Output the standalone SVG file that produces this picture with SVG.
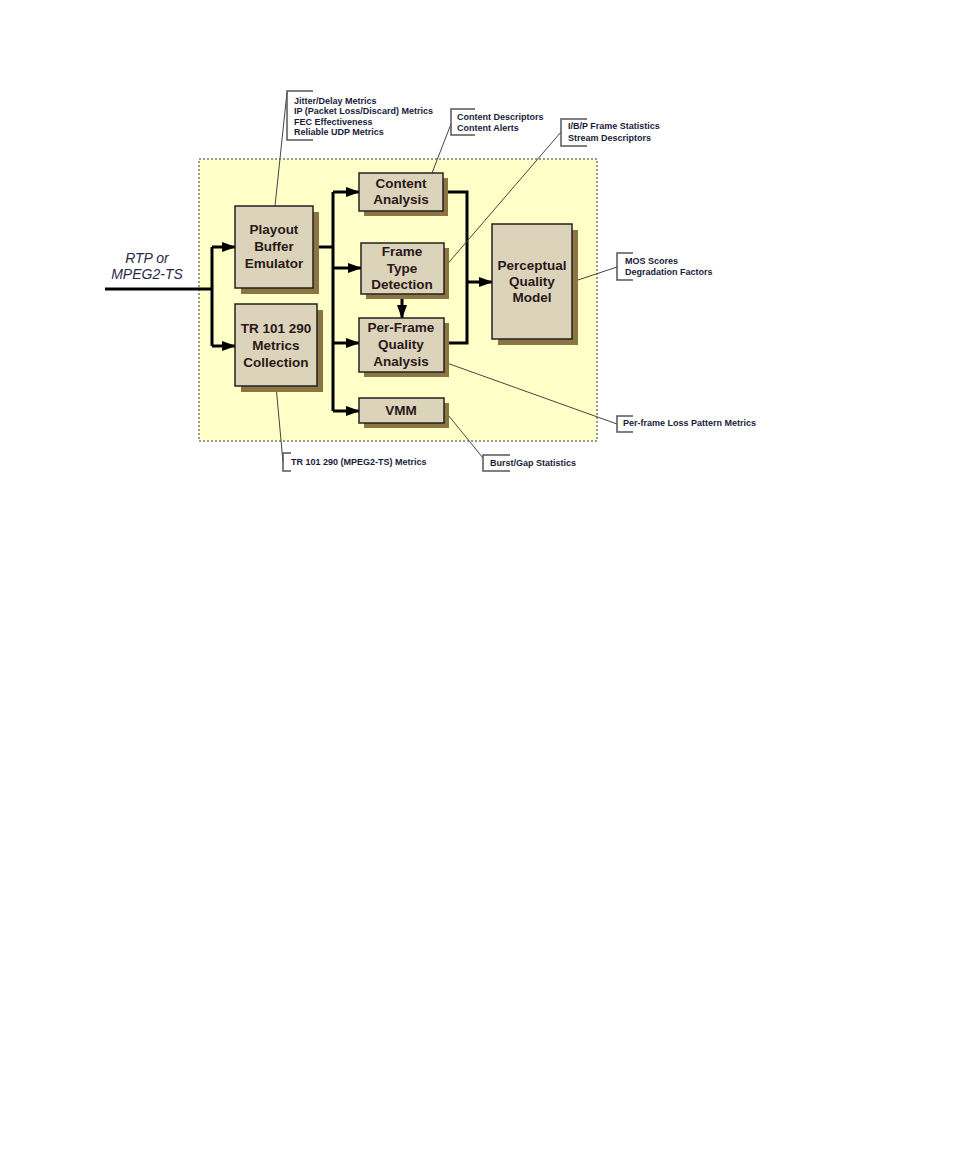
<svg xmlns="http://www.w3.org/2000/svg" width="954" height="1158" viewBox="0 0 954 1158">
<style>
.area{fill:#ffffc8;stroke:#777;stroke-width:1.5;stroke-dasharray:2,2}
.shadow{fill:#8c7443}
.box{fill:#dcd3bb;stroke:#222;stroke-width:1.5}
.bt{font-family:"Liberation Sans",Arial,sans-serif;font-weight:bold;font-size:13.5px;fill:#2a1818;text-anchor:middle}
.ct{font-family:"Liberation Sans",Arial,sans-serif;font-weight:bold;font-size:9px;fill:#1a1a3a}
.in{font-family:"Liberation Sans",Arial,sans-serif;font-style:italic;font-size:14px;fill:#2a2a4a;text-anchor:middle}
.conn{fill:none;stroke:#000;stroke-width:3}
.lead{fill:none;stroke:#444;stroke-width:1}
.br{fill:none;stroke:#555;stroke-width:1.5}
</style>
<defs>
<marker id="arr" markerUnits="userSpaceOnUse" markerWidth="14" markerHeight="11" refX="13" refY="5" orient="auto">
<path d="M0,0 L14,5 L0,10 z" fill="#000"/>
</marker>
</defs>
<rect class="area" x="199" y="159" width="398" height="282"/>
<text class="in" x="147" y="263">RTP or</text>
<text class="in" x="147" y="279">MPEG2-TS</text>

<g id="connectors">
<path class="conn" d="M105,289 H212"/>
<path class="conn" d="M212,247 V346"/>
<path class="conn" d="M212,247 H235" marker-end="url(#arr)"/>
<path class="conn" d="M212,346 H235" marker-end="url(#arr)"/>
<path class="conn" d="M313,247 H333"/>
<path class="conn" d="M333,192 V411"/>
<path class="conn" d="M333,192 H359" marker-end="url(#arr)"/>
<path class="conn" d="M333,268 H361" marker-end="url(#arr)"/>
<path class="conn" d="M333,343 H359" marker-end="url(#arr)"/>
<path class="conn" d="M333,411 H359" marker-end="url(#arr)"/>
<path class="conn" d="M443,192 H467 V343 H444"/>
<path class="conn" d="M467,282 H492" marker-end="url(#arr)"/>
<path class="conn" d="M402,294 V318" marker-end="url(#arr)"/>
<path class="lead" d="M275,206 L287,92"/>
<path class="lead" d="M432,173 L451,124"/>
<path class="lead" d="M444,268 L561,132"/>
<path class="lead" d="M572,282 L617,267"/>
<path class="lead" d="M276,386 L283,462"/>
<path class="lead" d="M444,410 L483,458"/>
<path class="lead" d="M444,362 L617,424"/>
</g>

<g id="playout">
<rect class="shadow" x="241" y="212" width="78" height="82"/>
<rect class="box" x="235" y="206" width="78" height="82"/>
<text class="bt" x="274" y="234">Playout</text>
<text class="bt" x="274" y="251">Buffer</text>
<text class="bt" x="274" y="268">Emulator</text>
</g>
<g id="tr101290">
<rect class="shadow" x="241" y="310" width="82" height="82"/>
<rect class="box" x="235" y="304" width="82" height="82"/>
<text class="bt" x="276" y="333">TR 101 290</text>
<text class="bt" x="276" y="350">Metrics</text>
<text class="bt" x="276" y="367">Collection</text>
</g>
<g id="content">
<rect class="shadow" x="364" y="178" width="84" height="38"/>
<rect class="box" x="359" y="173" width="84" height="38"/>
<text class="bt" x="401" y="188">Content</text>
<text class="bt" x="401" y="204">Analysis</text>
</g>
<g id="frametype">
<rect class="shadow" x="366" y="248" width="83" height="51"/>
<rect class="box" x="361" y="243" width="83" height="51"/>
<text class="bt" x="402" y="256">Frame</text>
<text class="bt" x="402" y="273">Type</text>
<text class="bt" x="402" y="289">Detection</text>
</g>
<g id="perframe">
<rect class="shadow" x="364" y="323" width="85" height="54"/>
<rect class="box" x="359" y="318" width="85" height="54"/>
<text class="bt" x="401" y="332">Per-Frame</text>
<text class="bt" x="401" y="349">Quality</text>
<text class="bt" x="401" y="366">Analysis</text>
</g>
<g id="perceptual">
<rect class="shadow" x="498" y="230" width="80" height="115"/>
<rect class="box" x="492" y="224" width="80" height="115"/>
<text class="bt" x="532" y="270">Perceptual</text>
<text class="bt" x="532" y="286">Quality</text>
<text class="bt" x="532" y="302">Model</text>
</g>
<g id="vmm">
<rect class="shadow" x="364" y="403" width="85" height="25"/>
<rect class="box" x="359" y="398" width="85" height="25"/>
<text class="bt" x="401" y="415">VMM</text>
</g>

<g id="callout-playout">
<path class="br" d="M313,91 H287 V140 H313"/>
<text class="ct" x="294" y="103.5">Jitter/Delay Metrics</text>
<text class="ct" x="294" y="114">IP (Packet Loss/Discard) Metrics</text>
<text class="ct" x="294" y="124.5">FEC Effectiveness</text>
<text class="ct" x="294" y="135">Reliable UDP Metrics</text>
</g>
<g id="callout-content">
<path class="br" d="M475,109 H451 V135 H475"/>
<text class="ct" x="457" y="120">Content Descriptors</text>
<text class="ct" x="457" y="131">Content Alerts</text>
</g>
<g id="callout-frame">
<path class="br" d="M587,119 H561 V146 H587"/>
<text class="ct" x="568" y="129">I/B/P Frame Statistics</text>
<text class="ct" x="568" y="141">Stream Descriptors</text>
</g>
<g id="callout-mos">
<path class="br" d="M633,253 H617 V280 H633"/>
<text class="ct" x="625" y="264">MOS Scores</text>
<text class="ct" x="625" y="275">Degradation Factors</text>
</g>
<g id="callout-tr">
<path class="br" d="M291,453 H283 V471 H291"/>
<text class="ct" x="291" y="465">TR 101 290 (MPEG2-TS) Metrics</text>
</g>
<g id="callout-burst">
<path class="br" d="M510,455 H483 V471 H510"/>
<text class="ct" x="490" y="466">Burst/Gap Statistics</text>
</g>
<g id="callout-loss">
<path class="br" d="M633,416 H617 V432 H633"/>
<text class="ct" x="623" y="426">Per-frame Loss Pattern Metrics</text>
</g>
</svg>
